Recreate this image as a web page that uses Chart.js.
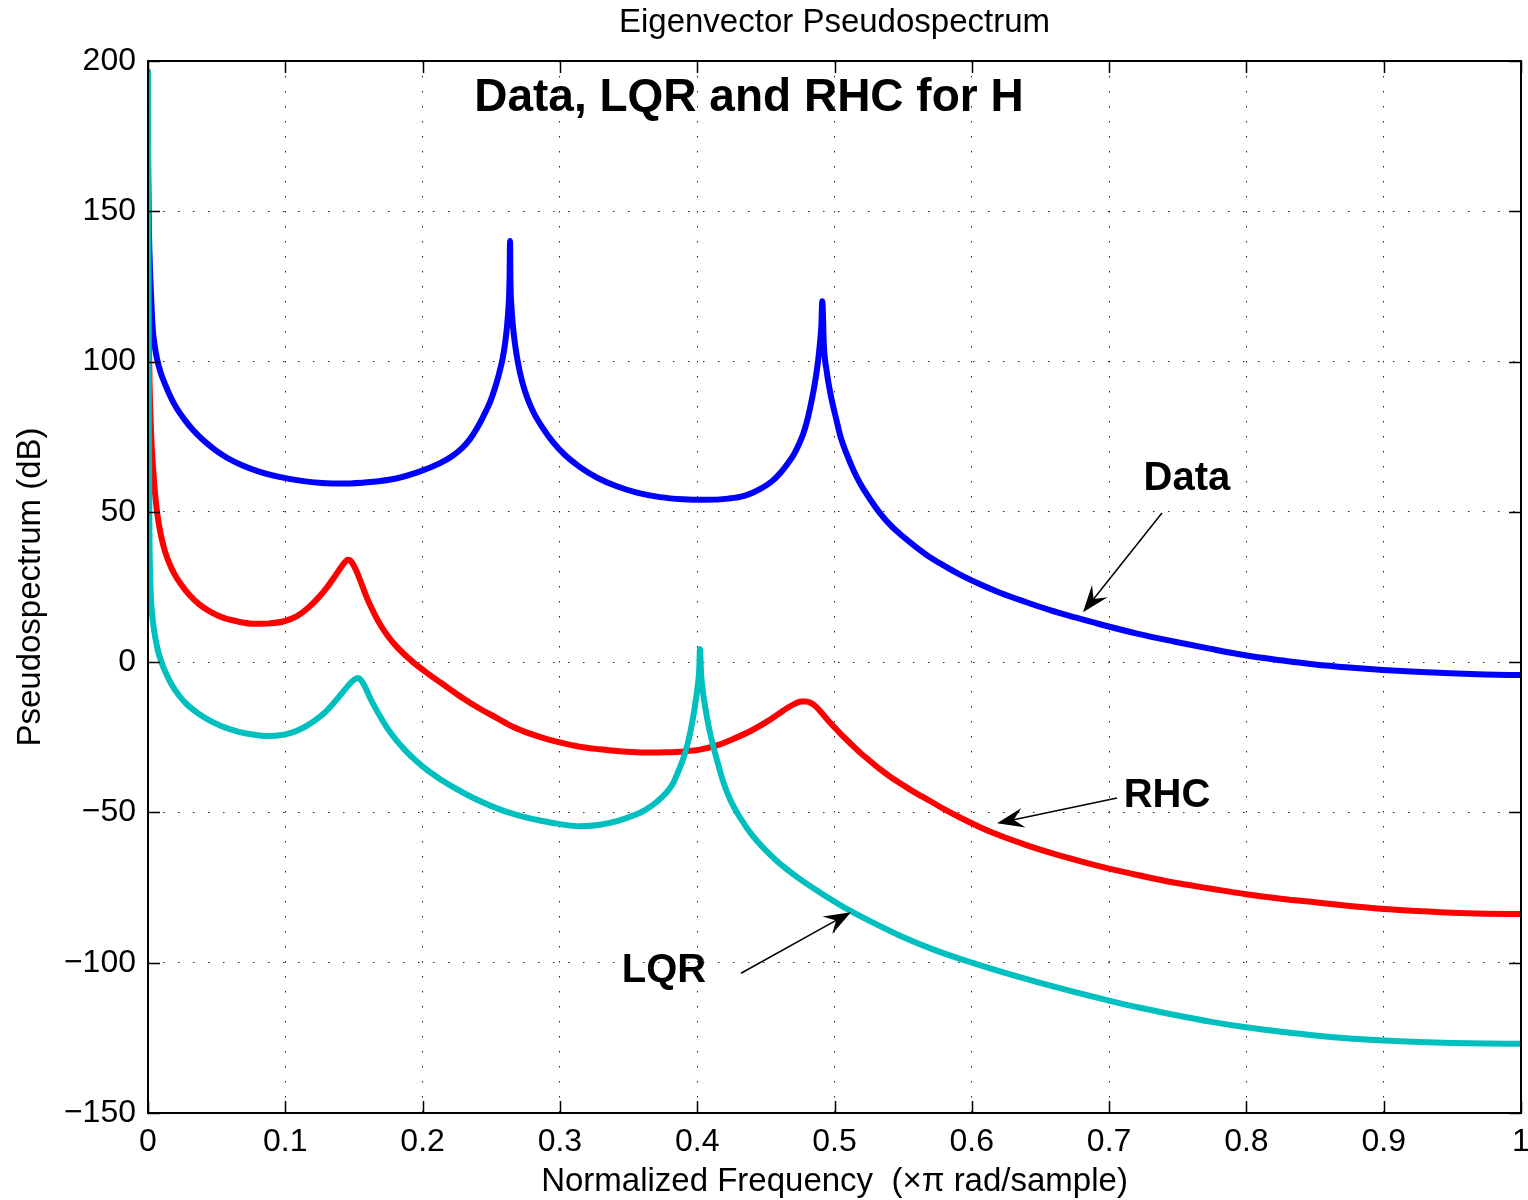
<!DOCTYPE html>
<html>
<head>
<meta charset="utf-8">
<script src="https://cdn.jsdelivr.net/npm/chart.js@4/dist/chart.umd.min.js"></script>
<style>
html,body{margin:0;padding:0;background:#fff;}
canvas{display:block;}
</style>
</head>
<body>
<canvas id="c" width="1528" height="1200"></canvas>
<script>
// ---- Data ----
const freqData = [0, 0.0007, 0.0015, 0.0022, 0.0033, 0.0047, 0.0066, 0.0091, 0.0124, 0.0164, 0.0211, 0.0266, 0.0328, 0.0401, 0.0481, 0.0575, 0.0685, 0.0808, 0.0947, 0.1107, 0.1267, 0.1435, 0.1617, 0.1799, 0.1967, 0.2127, 0.2214, 0.2287, 0.2345, 0.2396, 0.2447, 0.2491, 0.2527, 0.2556, 0.2582, 0.2600, 0.2615, 0.2626, 0.2633, 0.2637, 0.2640, 0.2647, 0.2658, 0.2673, 0.2695, 0.2724, 0.2760, 0.2811, 0.2877, 0.2950, 0.3037, 0.3146, 0.3270, 0.3409, 0.3561, 0.3729, 0.3897, 0.4057, 0.4224, 0.4348, 0.4457, 0.4545, 0.4610, 0.4661, 0.4705, 0.4741, 0.4771, 0.4800, 0.4825, 0.4847, 0.4865, 0.4880, 0.4894, 0.4904, 0.4911, 0.4923, 0.4943, 0.4974, 0.5016, 0.5047, 0.5089, 0.5135, 0.5186, 0.5259, 0.5331, 0.5411, 0.5499, 0.5594, 0.5696, 0.5805, 0.5914, 0.6060, 0.6205, 0.6387, 0.6570, 0.6752, 0.6934, 0.7203, 0.7480, 0.7742, 0.8004, 0.8252, 0.8500, 0.8747, 0.8995, 0.9235, 0.9483, 0.9738, 1];
const psdData  = [168.7, 143.4, 130.1, 122.4, 111.8, 105.8, 100.8, 96.5, 92.5, 88.3, 84.3, 80.7, 77.2, 73.9, 70.9, 68.0, 65.5, 63.4, 61.7, 60.4, 59.6, 59.4, 59.9, 61.0, 63.2, 66.2, 68.5, 71.2, 74.2, 77.8, 82.2, 86.5, 91.2, 95.8, 100.8, 105.8, 111.8, 118.4, 126.7, 140.1, 126.7, 118.4, 111.8, 105.8, 99.5, 93.5, 88.2, 82.8, 77.8, 73.2, 68.9, 64.9, 61.4, 58.6, 56.4, 54.9, 54.2, 54.0, 54.4, 55.4, 57.6, 60.2, 63.2, 66.2, 69.2, 72.5, 75.8, 80.2, 85.2, 90.2, 95.1, 100.1, 106.1, 111.8, 120.1, 105.1, 96.8, 88.5, 80.2, 74.5, 69.2, 64.2, 59.5, 54.2, 49.6, 45.4, 41.8, 38.3, 34.9, 31.9, 29.1, 25.9, 23.1, 20.1, 17.3, 14.9, 12.6, 9.5, 6.8, 4.4, 2.2, 0.6, -0.8, -1.8, -2.6, -3.2, -3.7, -4.1, -4.3];

const freqRHC = [0, 0.0011, 0.0022, 0.0036, 0.0051, 0.0069, 0.0091, 0.0117, 0.0149, 0.0189, 0.0240, 0.0302, 0.0371, 0.0452, 0.0546, 0.0656, 0.0779, 0.0889, 0.0991, 0.1085, 0.1165, 0.1238, 0.1304, 0.1362, 0.1406, 0.1435, 0.1453, 0.1471, 0.1493, 0.1522, 0.1559, 0.1595, 0.1639, 0.1690, 0.1748, 0.1814, 0.1930, 0.2054, 0.2178, 0.2294, 0.2418, 0.2542, 0.2658, 0.2782, 0.2906, 0.3037, 0.3168, 0.3292, 0.3416, 0.3532, 0.3656, 0.3780, 0.3904, 0.4020, 0.4137, 0.4261, 0.4385, 0.4508, 0.4596, 0.4661, 0.4712, 0.4756, 0.4792, 0.4828, 0.4865, 0.4909, 0.4967, 0.5040, 0.5113, 0.5186, 0.5259, 0.5331, 0.5411, 0.5499, 0.5594, 0.5696, 0.5805, 0.5914, 0.6060, 0.6205, 0.6387, 0.6570, 0.6788, 0.6999, 0.7225, 0.7480, 0.7735, 0.7997, 0.8252, 0.8500, 0.8755, 0.9002, 0.9250, 0.9497, 0.9745, 1];
const psdRHC  = [126.7, 93.5, 76.8, 65.2, 56.2, 48.9, 42.9, 37.9, 33.6, 29.6, 25.9, 22.3, 19.3, 16.8, 14.8, 13.5, 12.75, 12.9, 13.6, 15.3, 18.0, 21.3, 24.9, 28.6, 31.6, 33.3, 34.1, 33.9, 32.6, 29.9, 25.6, 21.3, 17.0, 12.6, 8.6, 5.0, 0, -4.3, -8.3, -12.0, -15.5, -18.6, -21.5, -23.8, -25.6, -27.1, -28.3, -29.0, -29.6, -29.9, -30.1, -30.0, -29.7, -29.1, -27.8, -25.6, -23.0, -19.8, -17.1, -15.1, -13.8, -13.1, -13.07, -13.6, -14.8, -17.0, -20.1, -23.6, -26.9, -30.1, -32.9, -35.6, -38.3, -40.9, -43.6, -46.2, -49.1, -51.7, -54.9, -57.7, -60.7, -63.4, -66.2, -68.7, -71.0, -73.4, -75.3, -77.2, -78.7, -79.9, -81.1, -82.1, -82.8, -83.4, -83.7, -83.8];

const freqLQR = [0, 0.0006, 0.0011, 0.0017, 0.0025, 0.0039, 0.0055, 0.0073, 0.0098, 0.0131, 0.0175, 0.0226, 0.0284, 0.0357, 0.0444, 0.0546, 0.0655, 0.0765, 0.0867, 0.0991, 0.1085, 0.1158, 0.1224, 0.1282, 0.1333, 0.1377, 0.1413, 0.1449, 0.1478, 0.1504, 0.1527, 0.1548, 0.1570, 0.1595, 0.1624, 0.1657, 0.1690, 0.1748, 0.1814, 0.1879, 0.1952, 0.2039, 0.2134, 0.2236, 0.2345, 0.2462, 0.2586, 0.2717, 0.2855, 0.3001, 0.3146, 0.3292, 0.3416, 0.3525, 0.3620, 0.3700, 0.3766, 0.3817, 0.3860, 0.3897, 0.3926, 0.3951, 0.3973, 0.3991, 0.4006, 0.4015, 0.4020, 0.4028, 0.4039, 0.4057, 0.4082, 0.4115, 0.4152, 0.4188, 0.4239, 0.4312, 0.4406, 0.4574, 0.4749, 0.4931, 0.5113, 0.5295, 0.5477, 0.5732, 0.6001, 0.6242, 0.6497, 0.6752, 0.6999, 0.7225, 0.7480, 0.7735, 0.7997, 0.8252, 0.8500, 0.8755, 0.9002, 0.9250, 0.9497, 0.9745, 1];
const psdLQR  = [196.6, 76.8, 40.3, 26.3, 18.6, 12.3, 7.7, 3.7, 0, -3.7, -7.7, -11.1, -14.1, -16.8, -19.3, -21.5, -23.1, -24.1, -24.6, -24.1, -22.8, -21.1, -19.1, -17.0, -14.6, -12.3, -10.3, -8.3, -6.8, -5.8, -5.3, -5.8, -7.3, -9.6, -12.5, -15.3, -18.0, -22.3, -26.3, -29.6, -32.8, -36.1, -39.1, -41.9, -44.6, -47.1, -49.4, -51.2, -52.7, -53.9, -54.6, -54.1, -52.9, -51.2, -49.2, -46.7, -43.9, -40.9, -36.6, -32.3, -27.9, -23.0, -17.6, -12.3, -7.0, -2.3, 4.3, -3.7, -9.0, -14.6, -21.0, -27.6, -33.9, -39.6, -45.6, -51.7, -57.9, -65.9, -72.2, -77.7, -82.7, -87.0, -91.0, -95.8, -100.0, -103.4, -106.7, -109.8, -112.6, -115.0, -117.4, -119.6, -121.5, -123.0, -124.2, -125.2, -125.9, -126.4, -126.7, -126.9, -127.0];

const xTickValues = [0, 0.1, 0.2, 0.3, 0.4, 0.5, 0.6, 0.7, 0.8, 0.9, 1];
const yTickValues = [-150, -100, -50, 0, 50, 100, 150, 200];

const chartTitle = 'Eigenvector Pseudospectrum';
const xAxisTitle = 'Normalized Frequency  (\u00D7\u03C0 rad/sample)';
const yAxisTitle = 'Pseudospectrum (dB)';
const plotHeading = 'Data, LQR and RHC for H';

// annotation labels with arrows (data coordinates)
const annLabels = ['Data', 'RHC', 'LQR'];
const annTextPos = [[0.7567, 60.9], [0.7422, -44.6], [0.3758, -102.8]];
const annArrowFrom = [[0.7385, 49.6], [0.7058, -45.2], [0.4319, -103.5]];
const annArrowTo = [[0.681, 16.6], [0.6184, -53.6], [0.512, -83.2]];
const headingPos = [0.4377, 187.6];

const FONT = '"Liberation Sans", Arial, Helvetica, sans-serif';

function pts(xs, ys) { return xs.map((x, i) => ({x: x, y: ys[i]})); }

const overlay = {
  id: 'overlay',
  afterDatasetsDraw(chart) {
    const ctx = chart.ctx;
    const a = chart.chartArea;
    const xs = chart.scales.x, ys = chart.scales.y;
    ctx.save();
    // inside tick marks
    ctx.strokeStyle = '#000';
    ctx.lineWidth = 1.5;
    const tl = 12;
    ctx.beginPath();
    xTickValues.forEach(v => {
      const px = Math.round(xs.getPixelForValue(v)) + 0.5;
      ctx.moveTo(px, a.bottom); ctx.lineTo(px, a.bottom - tl);
      ctx.moveTo(px, a.top); ctx.lineTo(px, a.top + tl);
    });
    yTickValues.forEach(v => {
      const py = Math.round(ys.getPixelForValue(v)) + 0.5;
      ctx.moveTo(a.left, py); ctx.lineTo(a.left + tl, py);
      ctx.moveTo(a.right, py); ctx.lineTo(a.right - tl, py);
    });
    ctx.stroke();
    // box
    ctx.lineWidth = 2;
    ctx.strokeRect(a.left, a.top, a.right - a.left, a.bottom - a.top);

    // heading
    ctx.fillStyle = '#000';
    ctx.textAlign = 'center';
    ctx.textBaseline = 'middle';
    ctx.font = 'bold 46px ' + FONT;
    ctx.fillText(plotHeading, xs.getPixelForValue(headingPos[0]), ys.getPixelForValue(headingPos[1]));

    // annotation labels
    ctx.font = 'bold 40px ' + FONT;
    annLabels.forEach((t, i) => {
      ctx.fillText(t, xs.getPixelForValue(annTextPos[i][0]), ys.getPixelForValue(annTextPos[i][1]));
    });
    // arrows
    annLabels.forEach((t, i) => {
      const x0 = xs.getPixelForValue(annArrowFrom[i][0]), y0 = ys.getPixelForValue(annArrowFrom[i][1]);
      const x1 = xs.getPixelForValue(annArrowTo[i][0]), y1 = ys.getPixelForValue(annArrowTo[i][1]);
      const ang = Math.atan2(y1 - y0, x1 - x0);
      const L = 27, W = 10, back = 17;
      const c = Math.cos(ang), s = Math.sin(ang);
      ctx.lineWidth = 1.5;
      ctx.beginPath();
      ctx.moveTo(x0, y0);
      ctx.lineTo(x1 - c * back, y1 - s * back);
      ctx.stroke();
      const bx = x1 - c * L, by = y1 - s * L;
      ctx.beginPath();
      ctx.moveTo(x1, y1);
      ctx.lineTo(bx - s * W, by + c * W);
      ctx.lineTo(x1 - c * back, y1 - s * back);
      ctx.lineTo(bx + s * W, by - c * W);
      ctx.closePath();
      ctx.fill();
    });

    // titles
    ctx.font = '33px ' + FONT;
    const cx = (a.left + a.right) / 2;
    ctx.fillText(chartTitle, cx, 23);
    ctx.fillText(xAxisTitle, cx, 1182);
    ctx.translate(31, (a.top + a.bottom) / 2);
    ctx.rotate(-Math.PI / 2);
    ctx.fillText(yAxisTitle, 0, 0);
    ctx.restore();
  }
};

const lineCommon = {
  pointRadius: 0,
  borderWidth: 6,
  fill: false,
  clip: 0,
  cubicInterpolationMode: 'monotone',
  borderJoinStyle: 'round',
  borderCapStyle: 'round'
};

new Chart(document.getElementById('c'), {
  type: 'line',
  data: {
    datasets: [
      Object.assign({label: 'LQR', data: pts(freqLQR, psdLQR), borderColor: '#00BFBF'}, lineCommon),
      Object.assign({label: 'RHC', data: pts(freqRHC, psdRHC), borderColor: '#FF0000'}, lineCommon),
      Object.assign({label: 'Data', data: pts(freqData, psdData), borderColor: '#0000FF'}, lineCommon)
    ]
  },
  options: {
    responsive: false,
    animation: false,
    devicePixelRatio: 1,
    layout: { padding: { top: 61, right: 7, left: 0, bottom: 0 } },
    plugins: { legend: { display: false }, title: { display: false }, tooltip: { enabled: false } },
    scales: {
      x: {
        type: 'linear',
        min: 0, max: 1,
        afterBuildTicks: s => { s.ticks = xTickValues.map(v => ({value: v})); },
        afterFit: s => { s.height = 87; s.paddingLeft = 0; s.paddingRight = 0; },
        ticks: {
          autoSkip: false, maxRotation: 0, padding: 10, color: '#000',
          font: { family: FONT, size: 32 },
          callback: v => String(v)
        },
        grid: { color: 'rgba(0,0,0,0.85)', lineWidth: 1, drawTicks: false },
        border: { display: false, dash: [1.5, 13.5] }
      },
      y: {
        type: 'linear',
        min: -150, max: 200,
        afterBuildTicks: s => { s.ticks = yTickValues.map(v => ({value: v})); },
        afterFit: s => { s.width = 148; s.paddingTop = 0; s.paddingBottom = 0; },
        ticks: {
          autoSkip: false, padding: 12, color: '#000',
          font: { family: FONT, size: 32 },
          callback: v => (v < 0 ? '\u2212' + Math.abs(v) : String(v))
        },
        grid: { color: 'rgba(0,0,0,0.85)', lineWidth: 1, drawTicks: false },
        border: { display: false, dash: [1.5, 13.5] }
      }
    }
  },
  plugins: [overlay]
});
</script>
</body>
</html>
